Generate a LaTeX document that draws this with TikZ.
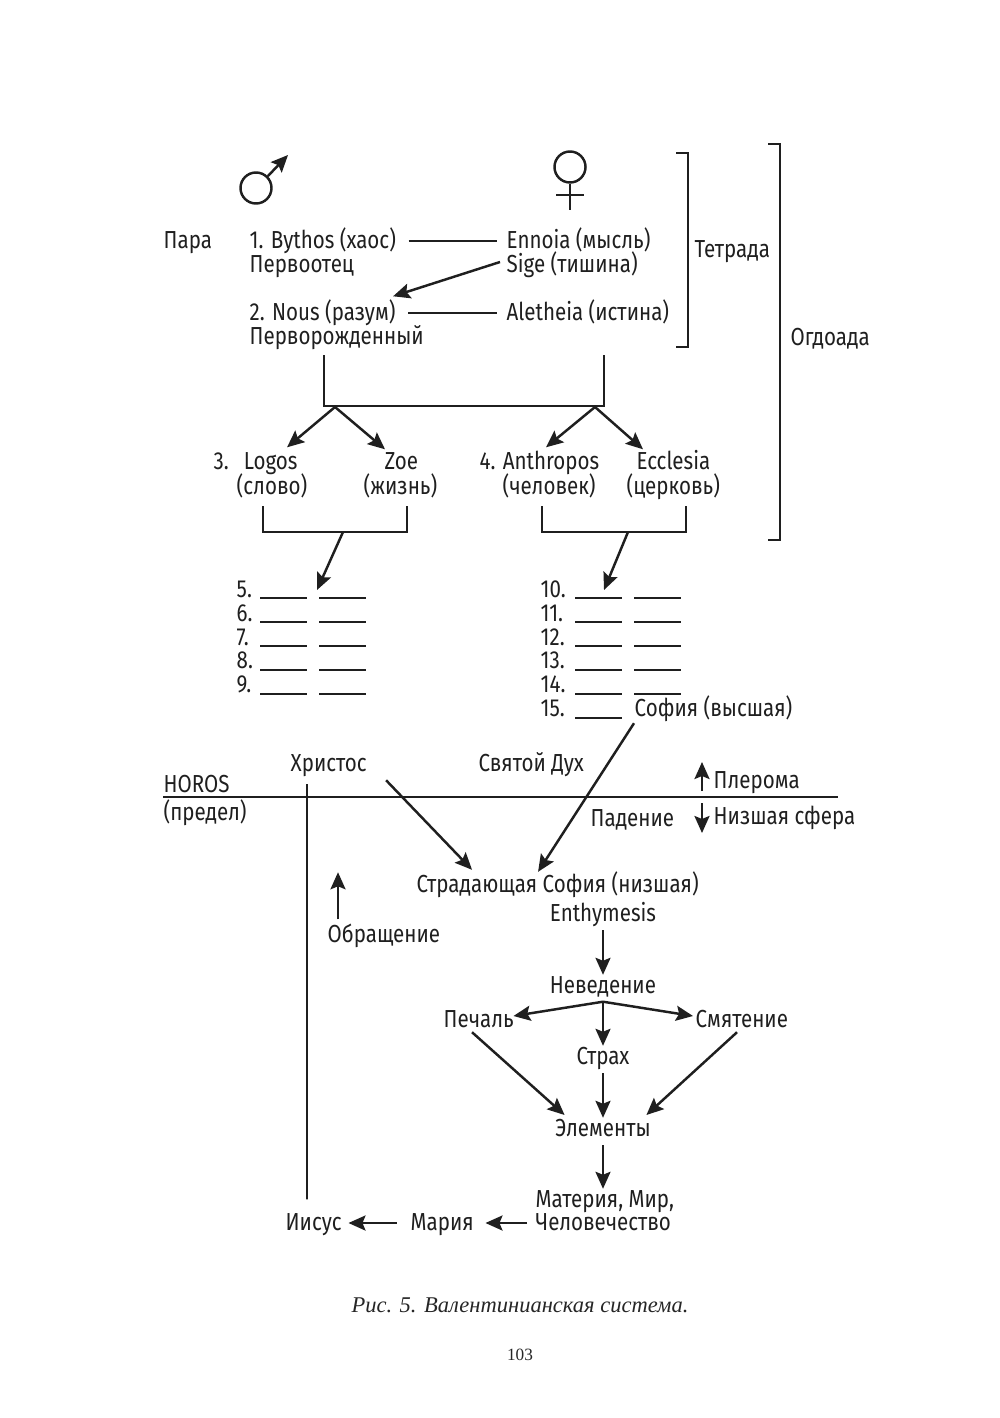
\documentclass[tikz,border=0pt]{standalone}
\usepackage{fontspec}
\setmainfont{Fira Sans}[FakeStretch=.835]
\newfontfamily\capfont{Liberation Serif}
\usetikzlibrary{arrows.meta}
\tikzset{
lbl/.style={anchor=west, inner sep=0, text height=.18cm, text depth=.03cm, font=\fontsize{7}{8}\selectfont, text=black!88},
mid/.style={lbl, anchor=center},
lnk/.style={line width=.7pt, black!88},
arr/.style={lnk, -{Stealth[length=1.7mm,width=1.5mm,inset=.3mm]}},
bar/.style={line width=.7pt, black!88},
blank/.style={line width=.4pt, black!88},
sym/.style={circle, draw=black!88, line width=.7pt, minimum size=.31cm, inner sep=0}
}
\begin{document}
\begin{tikzpicture}[x=.01cm, y=-.01cm]
\useasboundingbox (0,0) rectangle (1000,1418);
\fill[white] (0,0) rectangle (1000,1418);
% symbols
\node[sym] (male) at (256,188) {};
\coordinate (maletip) at (288,155);
\draw[arr] (male.45) -- (maletip);
\node[sym] (female) at (570,167) {};
\coordinate (femaleend) at (570,210);
\draw[lnk] (female.south) -- (femaleend);
\draw[lnk] (556,195) -- (584,195);
% first pairs
\node[lbl] (para) at (163,241) {Пара};
\node[lbl] (bythos) at (249,241) {1. Bythos (хаос)};
\node[lbl] (perv) at (249,265) {Первоотец};
\node[lbl] (ennoia) at (506,241) {Ennoia (мысль)};
\node[lbl] (sige) at (506,265) {Sige (тишина)};
\node[lbl] (nous) at (249,313) {2. Nous (разум)};
\node[lbl] (born) at (249,337) {Перворожденный};
\node[lbl] (aletheia) at (506,313) {Aletheia (истина)};
\node[lbl] (tetrada) at (694,250) {Тетрада};
\node[lbl] (ogdoada) at (790,338) {Огдоада};
\draw[lnk, shorten <=.12cm, shorten >=.09cm] (bythos) -- (ennoia);
\draw[lnk, shorten <=.12cm, shorten >=.09cm] (nous) -- (aletheia);
\draw[arr] ([xshift=-.06cm,yshift=.03cm]sige.west) -- ([xshift=1.44cm,yshift=.055cm]nous.north west);
\draw[bar] (676,153) -- (688,153) -- (688,347) -- (676,347);
\draw[bar] (768,144) -- (780,144) -- (780,540) -- (768,540);
% second pairs
\draw[bar] (324,355) -- (324,406) -- (604,406) -- (604,355);
\coordinate (forkl) at (335,407);
\coordinate (forkr) at (595,407);
\node[lbl] (logos) at (213,462) {3.\ \ \hspace{.04cm}Logos};
\node[lbl] (zoe) at (384,462) {Zoe};
\node[lbl] (slovo) at (236,487) {(слово)};
\node[lbl] (zhizn) at (363,487) {(жизнь)};
\node[lbl] (anthropos) at (479,462) {4. Anthropos};
\node[lbl] (ecclesia) at (636,462) {Ecclesia};
\node[lbl] (chelovek) at (502,487) {(человек)};
\node[lbl] (cerkov) at (626,487) {(церковь)};
\draw[arr] (forkl) -- ([xshift=.74cm,yshift=.035cm]logos.north west);
\draw[arr] (forkl) -- ([xshift=.01cm,yshift=.015cm]zoe.north west);
\draw[arr] (forkr) -- ([xshift=.67cm,yshift=.035cm]anthropos.north west);
\draw[arr] (forkr) -- ([xshift=.07cm,yshift=.015cm]ecclesia.north west);
\draw[bar] (263,506) -- (263,532) -- (407,532) -- (407,506);
\draw[bar] (542,506) -- (542,532) -- (686,532) -- (686,506);
\coordinate (forkp) at (343,532);
\coordinate (forkq) at (628,532);
% numbered lists
\node[lbl] (n5) at (236,590) {5.};
\node[lbl] (n6) at (236,614) {6.};
\node[lbl] (n7) at (236,638) {7.};
\node[lbl] (n8) at (236,661) {8.};
\node[lbl] (n9) at (236,685) {9.};
\node[lbl] (n10) at (540,590) {10.};
\node[lbl] (n11) at (540,614) {11.};
\node[lbl] (n12) at (540,638) {12.};
\node[lbl] (n13) at (540,661) {13.};
\node[lbl] (n14) at (540,685) {14.};
\node[lbl] (n15) at (540,709) {15.};
\node[lbl] (sofia) at (634,709) {София (высшая)};
\foreach \y in {598,622,646,670,694} {
\draw[blank] (260,\y) -- (307,\y);
\draw[blank] (319,\y) -- (366,\y);
\draw[blank] (575,\y) -- (622,\y);
\draw[blank] (634,\y) -- (681,\y);
}
\draw[blank] (575,718) -- (622,718);
\coordinate (bl) at (317,590);
\coordinate (br) at (604,590);
\draw[arr] (forkp) -- (bl);
\draw[arr] (forkq) -- (br);
% horos
\node[lbl] (horos) at (163,785) {HOROS};
\node[lbl] (predel) at (163,813) {(предел)};
\node[lbl] (christos) at (290,764) {Христос};
\node[lbl] (spirit) at (478,764) {Святой Дух};
\node[lbl] (pleroma) at (713,781) {Плерома};
\node[lbl] (fall) at (590,819) {Падение};
\node[lbl] (lower) at (713,817) {Низшая сфера};
\coordinate (lineend) at (838,797);
\draw[lnk, line width=.75pt] (horos.west |- lineend) -- (lineend);
\draw[arr] ([xshift=-.11cm,yshift=-.1cm]pleroma.west) -- ([xshift=-.11cm,yshift=.19cm]pleroma.west);
\draw[arr] ([xshift=-.11cm,yshift=.14cm]lower.west) -- ([xshift=-.11cm,yshift=-.16cm]lower.west);
% lower sphere
\node[lbl] (passion) at (416,885) {Страдающая София (низшая)};
\node[mid] (enthymesis) at (603,914) {Enthymesis};
\node[lbl] (turn) at (327,935) {Обращение};
\node[mid] (ignorance) at (603,986) {Неведение};
\node[lbl] (grief) at (443,1020) {Печаль};
\node[lbl] (confusion) at (695,1020) {Смятение};
\node[mid] (fear) at (603,1057) {Страх};
\node[mid] (elements) at (603,1129) {Элементы};
\node[lbl] (matter) at (535,1200) {Материя, Мир,};
\node[lbl] (mankind) at (535,1223) {Человечество};
\node[lbl] (maria) at (410,1223) {Мария};
\node[lbl] (jesus) at (285,1223) {Иисус};
\draw[arr] ([xshift=.96cm,yshift=-.05cm]christos.south west) -- ([xshift=.56cm,yshift=.04cm]passion.north west);
\draw[arr] ([yshift=-.03cm]sofia.south west) -- ([xshift=1.22cm,yshift=.02cm]passion.north west);
\draw[arr] ([xshift=.11cm,yshift=.045cm]turn.north west) -- ([xshift=.11cm,yshift=.515cm]turn.north west);
\draw[arr, shorten <=.05cm] (enthymesis) -- (ignorance);
\draw[arr] ([yshift=-.045cm]ignorance.south) -- ([xshift=-.01cm,yshift=.04cm]grief.east);
\draw[arr] ([yshift=-.045cm]ignorance.south) -- ([xshift=-.02cm,yshift=.04cm]confusion.west);
\draw[arr, shorten <=.045cm] (ignorance) -- (fear);
\draw[arr, shorten <=.05cm] (fear) -- (elements);
\draw[arr] ([xshift=.29cm,yshift=-.01cm]grief.south west) -- ([xshift=.1cm,yshift=.14cm]elements.west);
\draw[arr] ([xshift=.42cm,yshift=-.01cm]confusion.south west) -- ([xshift=-.05cm,yshift=.14cm]elements.east);
\draw[arr, shorten <=.05cm] (elements) -- (elements |- matter.north);
\draw[arr, shorten <=.08cm, shorten >=.11cm] (mankind) -- (maria);
\draw[arr, shorten <=.13cm, shorten >=.06cm] (maria) -- (jesus);
\draw[lnk, line width=.55pt] (307,784) -- ([xshift=.22cm,yshift=.125cm]jesus.north west);
% caption
\node[inner sep=0, font=\capfont\itshape\fontsize{6.4}{8}\selectfont, text=black!85] (caption) at (520,1305) {Рис. 5. Валентинианская система.};
\node[inner sep=0, font=\capfont\fontsize{4.9}{6}\selectfont, text=black!85] (page) at (520,1355) {103};
\end{tikzpicture}
\end{document}
